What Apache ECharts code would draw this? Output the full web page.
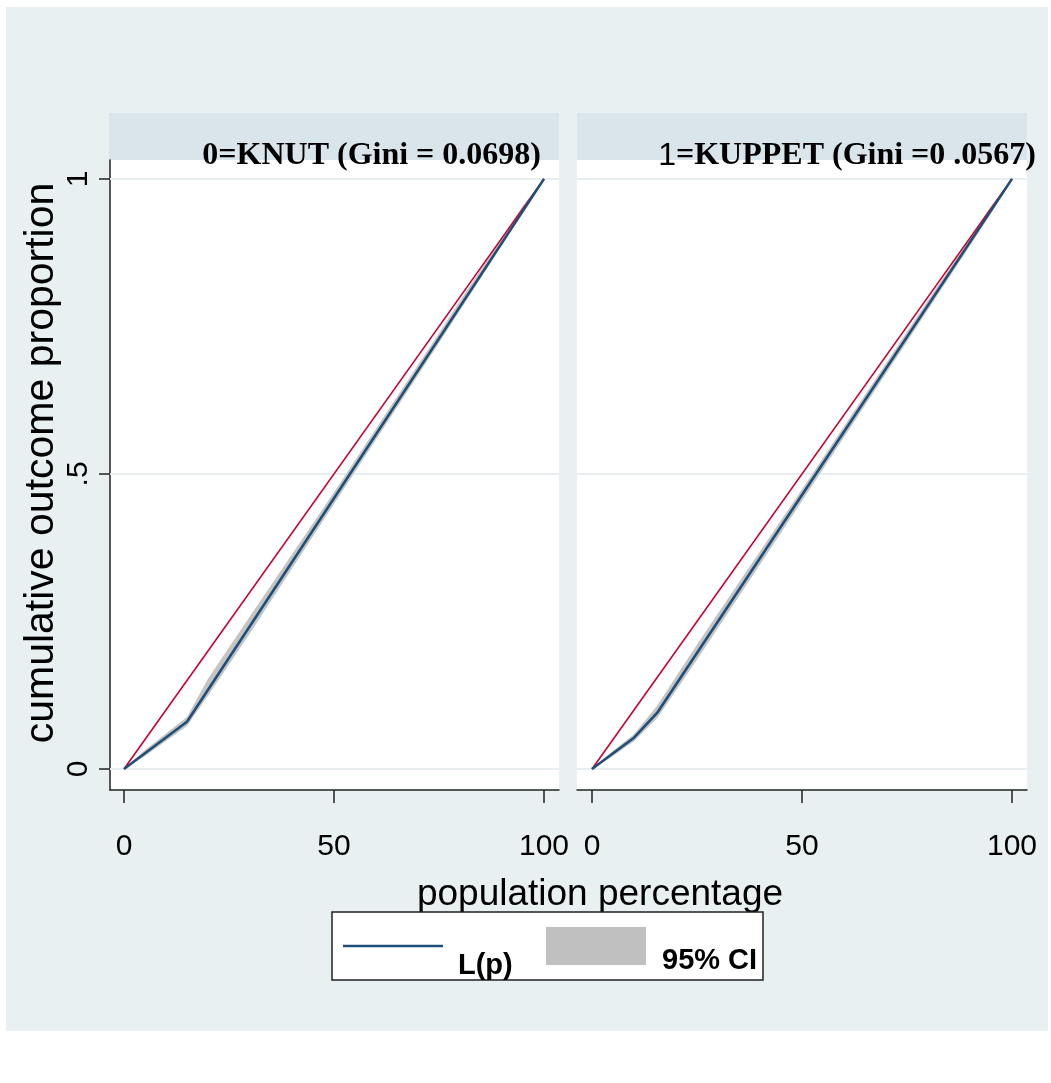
<!DOCTYPE html>
<html>
<head>
<meta charset="utf-8">
<script src="https://cdn.jsdelivr.net/npm/echarts@6/dist/echarts.min.js"></script>
<style>
  html, body { margin: 0; padding: 0; background: #fff; }
  #chart { width: 1051px; height: 1083px; }
</style>
</head>
<body>
<div id="chart"></div>
<script>
// 0=KNUT
const knutPop = [0, 15, 100];
const knutLp = [0, 0.08, 1];
const knutBandPop = [0, 5, 15, 20, 30, 50, 75, 95, 100];
const knutLower = [0, 0.022, 0.073, 0.124, 0.230, 0.449, 0.722, 0.943, 1];
const knutUpper = [0, 0.032, 0.088, 0.153, 0.259, 0.469, 0.739, 0.955, 1];

// 1=KUPPET
const kuppetPop = [0, 10, 15.5, 100];
const kuppetLp = [0, 0.053, 0.095, 1];
const kuppetBandPop = [0, 5, 10, 15.5, 25, 50, 75, 95, 100];
const kuppetLower = [0, 0.022, 0.047, 0.086, 0.185, 0.454, 0.724, 0.941, 1];
const kuppetUpper = [0, 0.031, 0.059, 0.107, 0.211, 0.474, 0.741, 0.953, 1];

// line of equality
const equalPop = [0, 100];
const equalVal = [0, 1];

const xTicks = [0, 50, 100];
const yTicks = [0, 0.5, 1];
const yTickText = { 0: "0", 0.5: ".5", 1: "1" };

const navy = "#1f4e78";
const red = "#c80032";
const bandGray = "#c4c4c4";
const gridLine = "#e6eef0";

const zip = (xs, ys) => xs.map((x, i) => [x, ys[i]]);

// CI band drawn as one polygon: upper edge forward, lower edge back
function bandItem(params, api) {
  if (params.dataIndexInside !== 0) return null;
  const n = params.dataInsideLength;
  const top = [];
  const bottom = [];
  for (let i = 0; i < n; i++) {
    top.push(api.coord([api.value(0, i), api.value(2, i)]));
    bottom.push(api.coord([api.value(0, i), api.value(1, i)]));
  }
  return {
    type: "polygon",
    shape: { points: top.concat(bottom.reverse()) },
    style: { fill: bandGray },
  };
}

function panelSeries(idx, pop, lp, bandPop, lower, upper) {
  return [
    {
      type: "custom",
      xAxisIndex: idx,
      yAxisIndex: idx,
      data: bandPop.map((p, i) => [p, lower[i], upper[i]]),
      encode: { x: 0, y: [1, 2] },
      renderItem: bandItem,
      silent: true,
      z: 3,
    },
    {
      type: "line",
      xAxisIndex: idx,
      yAxisIndex: idx,
      data: zip(equalPop, equalVal),
      showSymbol: false,
      lineStyle: { color: red, width: 1.6 },
      z: 4,
      markLine: {
        silent: true,
        symbol: "none",
        label: { show: false },
        lineStyle: { color: gridLine, width: 2, type: "solid" },
        data: yTicks.map((v) => ({ yAxis: v })),
        z: 1,
      },
    },
    {
      type: "line",
      xAxisIndex: idx,
      yAxisIndex: idx,
      data: zip(pop, lp),
      showSymbol: false,
      lineStyle: { color: navy, width: 2.6 },
      z: 5,
    },
  ];
}

function xAxis(idx, min) {
  return {
    gridIndex: idx,
    type: "value",
    min: min,
    max: 103.57,
    splitLine: { show: false },
    axisLine: { show: true, onZero: false, lineStyle: { color: "#222", width: 1.5 } },
    axisTick: { show: true, customValues: xTicks, length: 13, lineStyle: { color: "#222", width: 1.5 } },
    axisLabel: {
      customValues: xTicks,
      fontFamily: "Liberation Sans, Arial",
      fontSize: 30,
      color: "#000",
      margin: 42,
    },
  };
}

function yAxis(idx, show) {
  return {
    gridIndex: idx,
    type: "value",
    min: -0.0356,
    max: 1.032,
    splitLine: { show: false },
    axisLine: { show: show, onZero: false, lineStyle: { color: "#222", width: 1.5 } },
    axisTick: { show: show, customValues: yTicks, length: 11, lineStyle: { color: "#222", width: 1.5 } },
    axisLabel: {
      show: show,
      customValues: yTicks,
      formatter: (v) => yTickText[v],
      rotate: 90,
      fontFamily: "Liberation Sans, Arial",
      fontSize: 30,
      color: "#000",
      margin: 16,
    },
  };
}

const chart = echarts.init(document.getElementById("chart"));
chart.setOption({
  animation: false,
  backgroundColor: "#fff",
  grid: [
    { left: 110, top: 160, width: 449, height: 630 },
    { left: 577, top: 160, width: 450, height: 630 },
  ],
  xAxis: [xAxis(0, -3.33), xAxis(1, -3.57)],
  yAxis: [yAxis(0, true), yAxis(1, false)],
  series: [
    ...panelSeries(0, knutPop, knutLp, knutBandPop, knutLower, knutUpper),
    ...panelSeries(1, kuppetPop, kuppetLp, kuppetBandPop, kuppetLower, kuppetUpper),
  ],
  graphic: [
    // outer background
    { type: "rect", z: -100, shape: { x: 6, y: 7, width: 1042, height: 1024 }, style: { fill: "#e8f0f2" } },
    // plot areas
    { type: "rect", z: -90, shape: { x: 110, y: 160, width: 449, height: 630 }, style: { fill: "#fff" } },
    { type: "rect", z: -90, shape: { x: 577, y: 160, width: 450, height: 630 }, style: { fill: "#fff" } },
    // strips
    { type: "rect", z: -90, shape: { x: 109, y: 113, width: 450, height: 47 }, style: { fill: "#d9e5eb" } },
    { type: "rect", z: -90, shape: { x: 577, y: 113, width: 450, height: 47 }, style: { fill: "#d9e5eb" } },
    {
      type: "text", z: 100, x: 541, y: 156,
      style: {
        text: "0=KNUT (Gini = 0.0698)",
        font: "bold 32px 'Liberation Serif', 'Times New Roman', serif",
        fill: "#000", align: "right", verticalAlign: "middle",
      },
    },
    {
      type: "text", z: 100, x: 1036, y: 156,
      style: {
        text: "{s|1}{b|=KUPPET (Gini =0 .0567)}",
        rich: {
          s: { fontFamily: "Liberation Sans, Arial", fontSize: 32, fill: "#000" },
          b: { fontFamily: "Liberation Serif, Times New Roman, serif", fontWeight: "bold", fontSize: 32, fill: "#000" },
        },
        align: "right", verticalAlign: "middle",
      },
    },
    // axis titles
    {
      type: "text", z: 100, x: 42, y: 463, rotation: Math.PI / 2,
      style: {
        text: "cumulative outcome proportion",
        font: "41px 'Liberation Sans', Arial, sans-serif",
        fill: "#000", align: "center", verticalAlign: "middle",
      },
    },
    {
      type: "text", z: 100, x: 600, y: 895,
      style: {
        text: "population percentage",
        font: "37px 'Liberation Sans', Arial, sans-serif",
        fill: "#000", align: "center", verticalAlign: "middle",
      },
    },
    // legend
    { type: "rect", z: 110, shape: { x: 332, y: 912, width: 431, height: 68 }, style: { fill: "#fff", stroke: "#222", lineWidth: 1.5 } },
    { type: "line", z: 111, shape: { x1: 343, y1: 946, x2: 443, y2: 946 }, style: { stroke: navy, lineWidth: 2.6 } },
    { type: "rect", z: 111, shape: { x: 546, y: 927, width: 100, height: 38 }, style: { fill: "#c0c0c0" } },
    {
      type: "text", z: 112, x: 458, y: 966,
      style: { text: "L(p)", font: "bold 29px 'Liberation Sans', Arial, sans-serif", fill: "#000", align: "left", verticalAlign: "middle" },
    },
    {
      type: "text", z: 112, x: 662, y: 961,
      style: { text: "95% CI", font: "bold 29px 'Liberation Sans', Arial, sans-serif", fill: "#000", align: "left", verticalAlign: "middle" },
    },
  ],
});
</script>
</body>
</html>
